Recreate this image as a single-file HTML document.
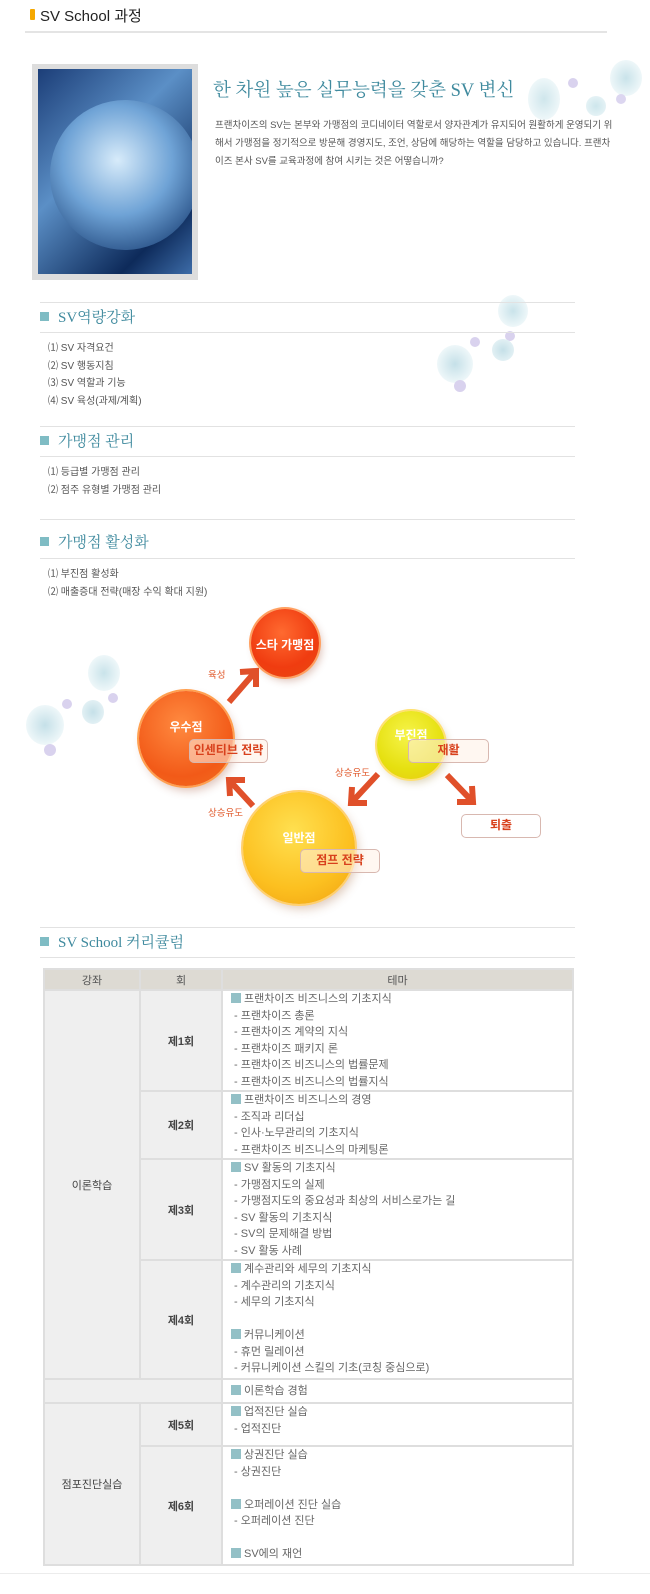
<!DOCTYPE html>
<html><head><meta charset="utf-8"><style>
*{margin:0;padding:0;box-sizing:border-box}
body{width:650px;height:1594px;background:#fff;position:relative;overflow:hidden;font-family:"Liberation Sans","Noto Sans CJK KR","NanumGothic",sans-serif;color:#555}
.a{position:absolute}
.hl{position:absolute;left:40px;width:535px;height:1px;background:#e2e2e2}
.h2{position:absolute;left:40px;font-size:15px;color:#3f8a9e;font-family:"Liberation Serif","Noto Serif CJK SC",serif;line-height:20px}
.h2:before{content:"";display:inline-block;width:9px;height:9px;background:#7fbcc4;margin-right:9px;vertical-align:1px}
.it{position:absolute;left:48px;font-size:10px;color:#555;line-height:12px}
.bub{position:absolute;border-radius:50%}
.c{position:absolute;border-radius:50%}
.bx{position:absolute;border:1.5px solid #d8b8b0;border-radius:5px;background:rgba(255,240,230,.55);color:#d8401c;font-weight:bold;font-size:12px;text-align:center;line-height:21px}
.cl{position:absolute;color:#fff;font-weight:bold;font-size:12px;text-align:center}
.lb{position:absolute;color:#e05a2c;font-size:9.5px}
table{position:absolute;left:43px;top:968px;width:531px;border-collapse:collapse;font-size:11px}
td{border:2px solid #dedede;vertical-align:middle}
td.g{background:#efefef;text-align:center;color:#444;font-weight:bold}
td.t{background:#fff;padding:0 8px;line-height:16.5px;color:#666;vertical-align:top}
th{background:#dddad3;color:#555;height:21px;font-weight:normal;border:2px solid #dedede;font-size:11px}
.sq{display:inline-block;width:10px;height:10px;background:#93c0c6;margin-right:3px;vertical-align:-1px}
</style></head><body>
<div class="a" style="left:30px;top:9px;width:5px;height:11px;background:#f5a800;border-radius:1px"></div>
<div class="a" style="left:40px;top:5px;font-size:15px;color:#222">SV School 과정</div>
<div class="a" style="left:25px;top:31px;width:582px;height:2px;background:#e4e4e4"></div>

<div class="bub" style="left:528px;top:78px;width:32px;height:42px;background:radial-gradient(#cfe6ec,#eef7f9 70%,transparent)"></div>
<div class="bub" style="left:568px;top:78px;width:10px;height:10px;background:#d9d2ee"></div>
<div class="bub" style="left:610px;top:60px;width:32px;height:36px;background:radial-gradient(#c9e3ea,#eef7f9 70%,transparent)"></div>
<div class="bub" style="left:586px;top:96px;width:20px;height:20px;background:radial-gradient(#cde6ec,#eef7f9)"></div>
<div class="bub" style="left:616px;top:94px;width:10px;height:10px;background:#dcd6f0"></div>
<div class="bub" style="left:498px;top:295px;width:30px;height:32px;background:radial-gradient(#c9e3ea,#eef7f9 70%,transparent)"></div>
<div class="bub" style="left:505px;top:331px;width:10px;height:10px;background:#d9d2ee"></div>
<div class="bub" style="left:470px;top:337px;width:10px;height:10px;background:#d9d2ee"></div>
<div class="bub" style="left:492px;top:339px;width:22px;height:22px;background:radial-gradient(#c5e0e8,#eef7f9)"></div>
<div class="bub" style="left:437px;top:345px;width:36px;height:38px;background:radial-gradient(#c5e0e8,#eef7f9 70%,transparent)"></div>
<div class="bub" style="left:454px;top:380px;width:12px;height:12px;background:#d9d2ee"></div>

<div class="a" style="left:32px;top:64px;width:166px;height:216px;background:#ddd"></div>
<div class="a" style="left:38px;top:69px;width:154px;height:205px;background:linear-gradient(135deg,#1c3e78,#5b8fc6 40%,#0d2a5a 80%,#3d6ca8)"></div>
<div class="a" style="left:50px;top:100px;width:150px;height:150px;border-radius:50%;background:radial-gradient(circle at 45% 40%,#d7ebfa,#6fa3d6 45%,#153a70 90%);clip-path:inset(0 8px 0 0)"></div>

<div class="a" style="left:213px;top:76px;font-size:18.5px;color:#3f8a9e;font-family:'Liberation Serif','Noto Serif CJK SC',serif;white-space:nowrap">한 차원 높은 실무능력을 갖춘 SV 변신</div>
<div class="a" style="left:215px;top:117px;width:395px;font-size:9.5px;line-height:18px;color:#555;white-space:nowrap">프랜차이즈의 SV는 본부와 가맹점의 코디네이터 역할로서 양자관계가 유지되어 원활하게 운영되기 위<br>해서 가맹점을 정기적으로 방문해 경영지도, 조언, 상담에 해당하는 역할을 담당하고 있습니다. 프랜차<br>이즈 본사 SV를 교육과정에 참여 시키는 것은 어떻습니까?</div>

<div class="hl" style="top:302px"></div>
<div class="h2" style="top:308px">SV역량강화</div>
<div class="hl" style="top:332px"></div>
<div class="it" style="top:343px">⑴ SV 자격요건</div>
<div class="it" style="top:361px">⑵ SV 행동지침</div>
<div class="it" style="top:378px">⑶ SV 역할과 기능</div>
<div class="it" style="top:396px">⑷ SV 육성(과제/계획)</div>

<div class="hl" style="top:426px"></div>
<div class="h2" style="top:432px">가맹점 관리</div>
<div class="hl" style="top:456px"></div>
<div class="it" style="top:467px">⑴ 등급별 가맹점 관리</div>
<div class="it" style="top:485px">⑵ 점주 유형별 가맹점 관리</div>

<div class="hl" style="top:519px"></div>
<div class="h2" style="top:533px">가맹점 활성화</div>
<div class="hl" style="top:558px"></div>
<div class="it" style="top:569px">⑴ 부진점 활성화</div>
<div class="it" style="top:587px">⑵ 매출증대 전략(매장 수익 확대 지원)</div>

<div class="bub" style="left:88px;top:655px;width:32px;height:36px;background:radial-gradient(#c9e3ea,#eef7f9 70%,transparent)"></div>
<div class="bub" style="left:108px;top:693px;width:10px;height:10px;background:#d9d2ee"></div>
<div class="bub" style="left:62px;top:699px;width:10px;height:10px;background:#d9d2ee"></div>
<div class="bub" style="left:82px;top:700px;width:22px;height:24px;background:radial-gradient(#c5e0e8,#eef7f9)"></div>
<div class="bub" style="left:26px;top:705px;width:38px;height:40px;background:radial-gradient(#c5e0e8,#eef7f9 70%,transparent)"></div>
<div class="bub" style="left:44px;top:744px;width:12px;height:12px;background:#d9d2ee"></div>

<div class="c" style="left:251px;top:609px;width:68px;height:68px;background:radial-gradient(circle at 45% 35%,#ff6a30,#f03c10 60%,#e84a10);box-shadow:0 0 0 2px #ffa060,3px 4px 8px rgba(150,60,30,.3)"></div>
<div class="cl" style="left:251px;top:636px;width:68px">스타 가맹점</div>
<div class="c" style="left:139px;top:691px;width:94px;height:95px;background:radial-gradient(circle at 45% 35%,#ff8a40,#f25a18 65%,#f07020);box-shadow:0 0 0 2px #ffa050,3px 5px 9px rgba(150,60,30,.3)"></div>
<div class="cl" style="left:139px;top:718px;width:94px">우수점</div>
<div class="bx" style="left:189px;top:739px;width:79px;height:24px">인센티브 전략</div>
<div class="c" style="left:377px;top:711px;width:68px;height:68px;background:radial-gradient(circle at 45% 35%,#f6f44a,#e6e010 60%,#e8c810);box-shadow:0 0 0 2px #ffe070,3px 4px 8px rgba(150,120,30,.3)"></div>
<div class="cl" style="left:377px;top:726px;width:68px">부진점</div>
<div class="bx" style="left:408px;top:739px;width:81px;height:24px">재활</div>
<div class="c" style="left:243px;top:792px;width:112px;height:112px;background:radial-gradient(circle at 45% 35%,#ffe050,#fcc020 60%,#f0a010);box-shadow:0 0 0 2px #ffd070,3px 5px 10px rgba(150,80,30,.3)"></div>
<div class="cl" style="left:243px;top:829px;width:112px">일반점</div>
<div class="bx" style="left:300px;top:849px;width:80px;height:24px">점프 전략</div>
<div class="bx" style="left:461px;top:814px;width:80px;height:24px;background:#fff">퇴출</div>

<svg class="a" style="left:0;top:0" width="650" height="1594">
<g stroke="#e0502a" stroke-width="6" fill="none" stroke-linecap="butt">
<path d="M229 702 L255 672 M240 672 L256 671 L256 687"/>
<path d="M253 806 L230 781 M230 796 L229 780 L245 780"/>
<path d="M378 774 L352 802 M352 787 L351 803 L367 803"/>
<path d="M447 775 L472 801 M472 786 L473 802 L457 802"/>
</g></svg>
<div class="lb" style="left:208px;top:667px">육성</div>
<div class="lb" style="left:208px;top:805px">상승유도</div>
<div class="lb" style="left:335px;top:765px">상승유도</div>

<div class="hl" style="top:927px"></div>
<div class="h2" style="top:933px">SV School 커리큘럼</div>
<div class="hl" style="top:957px"></div>

<table>
<tr><th style="width:96px">강좌</th><th style="width:82px">회</th><th>테마</th></tr>
<tr><td class="g" rowspan="4" style="font-weight:normal">이론학습</td><td class="g">제1회</td><td class="t" style="height:101px"><span class="sq"></span>프랜차이즈 비즈니스의 기초지식<br>&nbsp;- 프랜차이즈 총론<br>&nbsp;- 프랜차이즈 계약의 지식<br>&nbsp;- 프랜차이즈 패키지 론<br>&nbsp;- 프랜차이즈 비즈니스의 법률문제<br>&nbsp;- 프랜차이즈 비즈니스의 법률지식</td></tr>
<tr><td class="g">제2회</td><td class="t" style="height:68px"><span class="sq"></span>프랜차이즈 비즈니스의 경영<br>&nbsp;- 조직과 리더십<br>&nbsp;- 인사·노무관리의 기초지식<br>&nbsp;- 프랜차이즈 비즈니스의 마케팅론</td></tr>
<tr><td class="g">제3회</td><td class="t" style="height:100px"><span class="sq"></span>SV 활동의 기초지식<br>&nbsp;- 가맹점지도의 실제<br>&nbsp;- 가맹점지도의 중요성과 최상의 서비스로가는 길<br>&nbsp;- SV 활동의 기초지식<br>&nbsp;- SV의 문제해결 방법<br>&nbsp;- SV 활동 사례</td></tr>
<tr><td class="g">제4회</td><td class="t" style="height:119px"><span class="sq"></span>계수관리와 세무의 기초지식<br>&nbsp;- 계수관리의 기초지식<br>&nbsp;- 세무의 기초지식<br><br><span class="sq"></span>커뮤니케이션<br>&nbsp;- 휴먼 릴레이션<br>&nbsp;- 커뮤니케이션 스킬의 기초(코칭 중심으로)</td></tr>
<tr><td class="g" colspan="2"></td><td class="t" style="height:24px;vertical-align:middle"><span class="sq"></span>이론학습 경험</td></tr>
<tr><td class="g" rowspan="2" style="font-weight:normal">점포진단실습</td><td class="g">제5회</td><td class="t" style="height:43px"><span class="sq"></span>업적진단 실습<br>&nbsp;- 업적진단</td></tr>
<tr><td class="g">제6회</td><td class="t" style="height:119px"><span class="sq"></span>상권진단 실습<br>&nbsp;- 상권진단<br><br><span class="sq"></span>오퍼레이션 진단 실습<br>&nbsp;- 오퍼레이션 진단<br><br><span class="sq"></span>SV에의 재언</td></tr>
</table>
<div class="a" style="left:0;top:1573px;width:650px;height:1px;background:#ececec"></div>
</body></html>
